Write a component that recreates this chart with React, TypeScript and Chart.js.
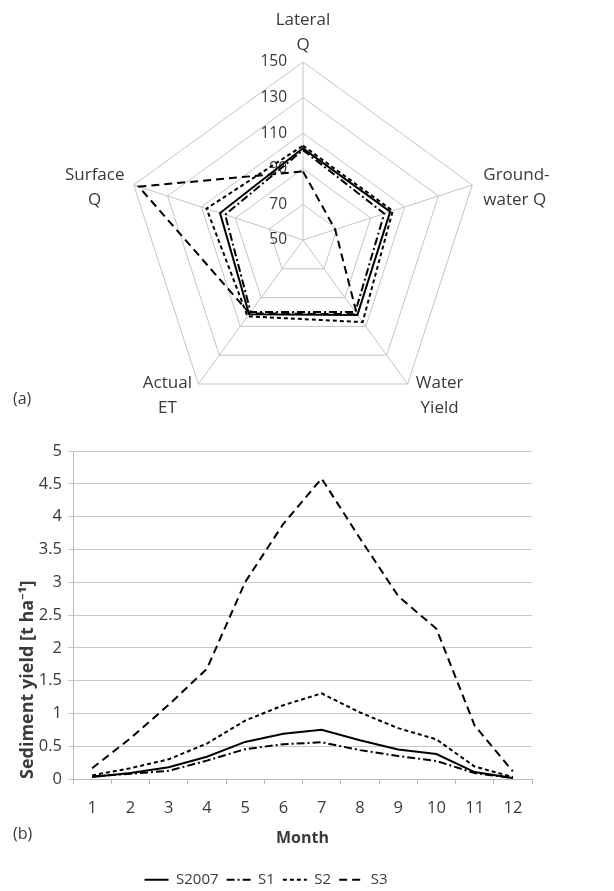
import React, { useEffect, useRef } from "react";
import { Chart, registerables } from "chart.js";

Chart.register(...registerables);

// ---------- Radar (a) data ----------
const RADAR_AXES: string[][] = [
  ["Lateral", "Q"],
  ["Ground-", "water Q"],
  ["Water", "Yield"],
  ["Actual", "ET"],
  ["Surface", "Q"],
];
const RADAR_TICKS = [50, 70, 90, 110, 130, 150];
const RADAR_S2007 = [101.5, 101.5, 102, 101.5, 99];
const RADAR_S1 = [100.5, 98, 100, 100, 96];
const RADAR_S2 = [103, 103, 107, 103, 107];
const RADAR_S3 = [88.5, 69, 101.5, 101, 147];

// ---------- Line (b) data ----------
const MONTHS = ["1", "2", "3", "4", "5", "6", "7", "8", "9", "10", "11", "12"];
const SED_S2007 = [0.03, 0.09, 0.18, 0.34, 0.565, 0.69, 0.75, 0.59, 0.45, 0.38, 0.105, 0.015];
const SED_S1 = [0.04, 0.08, 0.125, 0.28, 0.455, 0.53, 0.56, 0.44, 0.35, 0.275, 0.09, 0.015];
const SED_S2 = [0.055, 0.165, 0.3, 0.54, 0.89, 1.125, 1.305, 1.015, 0.775, 0.605, 0.19, 0.03];
const SED_S3 = [0.165, 0.62, 1.13, 1.68, 3.0, 3.89, 4.58, 3.67, 2.79, 2.29, 0.815, 0.115];
const SERIES_NAMES = ["S2007", "S1", "S2", "S3"];

const FONT = "'Open Sans', 'Noto Sans', sans-serif";
const TEXT = "#3a3a3a";
const DASHES: number[][] = [[], [8, 3, 2, 3], [4, 3], [8, 5]];

const radarText = {
  id: "radarText",
  beforeDatasetsDraw(chart: any) {
    const s = chart.scales.r;
    const ctx = chart.ctx;
    ctx.save();
    ctx.fillStyle = TEXT;
    ctx.font = `15.5px ${FONT}`;
    ctx.textAlign = "right";
    ctx.textBaseline = "middle";
    RADAR_TICKS.forEach((v) => {
      const y = s.yCenter - s.getDistanceFromCenterForValue(v);
      ctx.fillText(String(v), s.xCenter - 16, y);
    });
    ctx.restore();
  },
  afterDraw(chart: any) {
    const s = chart.scales.r;
    const ctx = chart.ctx;
    const place = [
      { dx: 0, dy: -42, align: "center" },
      { dx: 11, dy: -10, align: "left" },
      { dx: 32, dy: -1, align: "center" },
      { dx: -31, dy: -1, align: "center" },
      { dx: -39, dy: -10, align: "center" },
    ];
    ctx.save();
    ctx.fillStyle = TEXT;
    ctx.font = `17px ${FONT}`;
    ctx.textBaseline = "middle";
    RADAR_AXES.forEach((lines, i) => {
      const p = s.getPointPosition(i, s.drawingArea);
      const o = place[i];
      ctx.textAlign = o.align;
      lines.forEach((t, k) => {
        ctx.fillText(t, p.x + o.dx, p.y + o.dy + k * 25);
      });
    });
    ctx.restore();
  },
};

export default function App() {
  const radarRef = useRef<HTMLCanvasElement | null>(null);
  const lineRef = useRef<HTMLCanvasElement | null>(null);

  useEffect(() => {
    const radarSeries = [RADAR_S2007, RADAR_S1, RADAR_S2, RADAR_S3];
    const radar = new Chart(radarRef.current as HTMLCanvasElement, {
      type: "radar",
      data: {
        labels: RADAR_AXES.map((a) => a.join(" ")),
        datasets: radarSeries.map((d, i) => ({
          label: SERIES_NAMES[i],
          data: d,
          borderColor: "#000",
          backgroundColor: "rgba(0,0,0,0)",
          borderWidth: 2,
          borderDash: DASHES[i],
          pointRadius: 0,
          fill: false,
        })),
      },
      options: {
        responsive: false,
        animation: false,
        layout: { padding: { left: 125, right: 133, top: 62, bottom: 7 } },
        plugins: { legend: { display: false }, tooltip: { enabled: false } },
        elements: { line: { tension: 0 } },
        scales: {
          r: {
            min: 50,
            max: 150,
            ticks: { display: false, stepSize: 20 },
            pointLabels: { display: false },
            grid: { color: "#c4c4c4", circular: false, lineWidth: 1 },
            angleLines: { color: "#c4c4c4", lineWidth: 1 },
          },
        },
      } as any,
      plugins: [radarText as any],
    });

    const lineSeries = [SED_S2007, SED_S1, SED_S2, SED_S3];
    const line = new Chart(lineRef.current as HTMLCanvasElement, {
      type: "line",
      data: {
        labels: MONTHS,
        datasets: lineSeries.map((d, i) => ({
          label: SERIES_NAMES[i],
          data: d,
          borderColor: "#000",
          backgroundColor: "#000",
          borderWidth: 2,
          borderDash: DASHES[i],
          pointRadius: 0,
          tension: 0,
          fill: false,
        })),
      },
      options: {
        responsive: false,
        animation: false,
        layout: { padding: { left: 0, right: 82, top: 26, bottom: -6.2 } },
        plugins: {
          tooltip: { enabled: false },
          legend: {
            position: "bottom",
            labels: {
              usePointStyle: true,
              pointStyle: "line",
              pointStyleWidth: 24,
              boxHeight: 15,
              padding: 8,
              color: TEXT,
              font: { family: FONT, size: 15 },
              generateLabels: (chart: any) => {
                const items = (Chart.defaults as any).plugins.legend.labels.generateLabels(chart);
                return items.map((it: any, i: number) => ({
                  ...it,
                  lineDash: DASHES[i],
                  lineWidth: 2,
                  strokeStyle: "#000",
                  fillStyle: "#000",
                  pointStyle: "line",
                }));
              },
            },
          },
        },
        scales: {
          x: {
            offset: true,
            grid: {
              offset: true,
              drawOnChartArea: false,
              drawTicks: true,
              tickLength: 5,
              color: "#b8b8b8",
            },
            border: { color: "#b8b8b8" },
            ticks: { padding: 14.8, color: TEXT, font: { family: FONT, size: 16.5 } },
            title: {
              display: true,
              text: "Month",
              color: TEXT,
              font: { family: FONT, size: 16, weight: "bold" },
              padding: { top: 0, bottom: 15.9 },
            },
            afterFit: (s: any) => {
              s.height = 85.2;
            },
          },
          y: {
            min: 0,
            max: 5,
            ticks: {
              stepSize: 0.5,
              padding: 6,
              color: TEXT,
              font: { family: FONT, size: 16.5 },
              callback: (v: any) => String(Number(Number(v).toFixed(1))),
            },
            grid: { color: "#c8c8c8", tickLength: 5 },
            border: { color: "#b8b8b8" },
            title: {
              display: true,
              text: "Sediment yield [t ha⁻¹]",
              align: "start",
              color: TEXT,
              font: { family: FONT, size: 18, weight: "bold" },
              padding: { top: 17.5, bottom: 0 },
            },
            afterFit: (s: any) => {
              s.width = 73;
            },
          },
        },
      } as any,
    });

    return () => {
      radar.destroy();
      line.destroy();
    };
  }, []);

  const tag: React.CSSProperties = {
    position: "absolute",
    left: 13,
    fontFamily: FONT,
    fontSize: 16,
    lineHeight: "20px",
    color: TEXT,
  };

  return (
    <div style={{ position: "absolute", left: 0, top: 0, width: 614, height: 891, overflow: "hidden", background: "#fff" }}>
      <canvas ref={radarRef} width={614} height={425} style={{ position: "absolute", left: 0, top: 0, display: "block" }} />
      <canvas ref={lineRef} width={614} height={466} style={{ position: "absolute", left: 0, top: 425, display: "block" }} />
      <div style={{ ...tag, top: 388 }}>(a)</div>
      <div style={{ ...tag, top: 823 }}>(b)</div>
    </div>
  );
}
